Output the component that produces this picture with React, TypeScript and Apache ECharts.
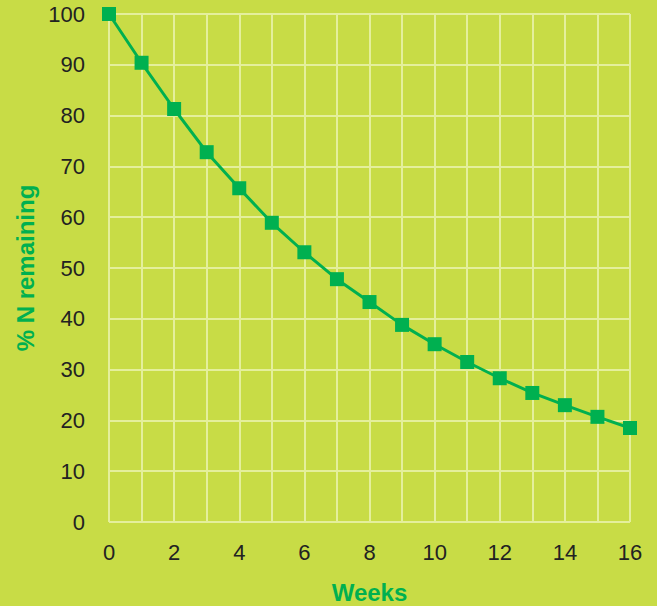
import React, { useEffect, useRef } from "react";
import * as echarts from "echarts";

const weeks = [0, 1, 2, 3, 4, 5, 6, 7, 8, 9, 10, 11, 12, 13, 14, 15, 16];
const nRemaining = [100, 90.4, 81.3, 72.8, 65.7, 58.9, 53.1, 47.8, 43.3, 38.8, 35.0, 31.5, 28.3, 25.4, 23.0, 20.7, 18.5];

const BG = "#c8dc46";
const GRID = "#e4ef9c";
const GREEN = "#00b050";
const TEXT = "#222222";

export default function App() {
  const ref = useRef<HTMLDivElement>(null);
  useEffect(() => {
    document.body.style.margin = "0";
    const chart = echarts.init(ref.current!, undefined, { renderer: "svg" });
    chart.setOption({
      animation: false,
      backgroundColor: BG,
      grid: { left: 109, right: 27, top: 14, bottom: 84, containLabel: false, outerBoundsMode: "none" },
      xAxis: {
        type: "value",
        min: 0,
        max: 16,
        interval: 1,
        name: "Weeks",
        nameLocation: "middle",
        nameGap: 58,
        nameTextStyle: { color: GREEN, fontWeight: "bold", fontSize: 24, fontFamily: "Liberation Sans" },
        axisLine: { show: false },
        axisTick: { show: false },
        axisLabel: {
          margin: 19,
          color: TEXT,
          fontSize: 22,
          fontFamily: "Liberation Sans",
          formatter: (v: number) => (v % 2 === 0 ? String(v) : ""),
        },
        splitLine: { show: true, lineStyle: { color: GRID, width: 2 } },
      },
      yAxis: {
        type: "value",
        min: 0,
        max: 100,
        interval: 10,
        name: "% N remaining",
        nameLocation: "middle",
        nameGap: 72,
        nameTextStyle: { color: GREEN, fontWeight: "bold", fontSize: 24, fontFamily: "Liberation Sans" },
        axisLine: { show: false },
        axisTick: { show: false },
        axisLabel: { margin: 24, color: TEXT, fontSize: 22, fontFamily: "Liberation Sans" },
        splitLine: { show: true, lineStyle: { color: GRID, width: 2 } },
      },
      series: [
        {
          type: "line",
          data: weeks.map((w, i) => [w, nRemaining[i]]),
          symbol: "rect",
          symbolSize: 14,
          clip: false,
          lineStyle: { color: GREEN, width: 3 },
          itemStyle: { color: GREEN },
        },
      ],
    });
    return () => chart.dispose();
  }, []);
  return <div ref={ref} style={{ width: 657, height: 606 }} />;
}
